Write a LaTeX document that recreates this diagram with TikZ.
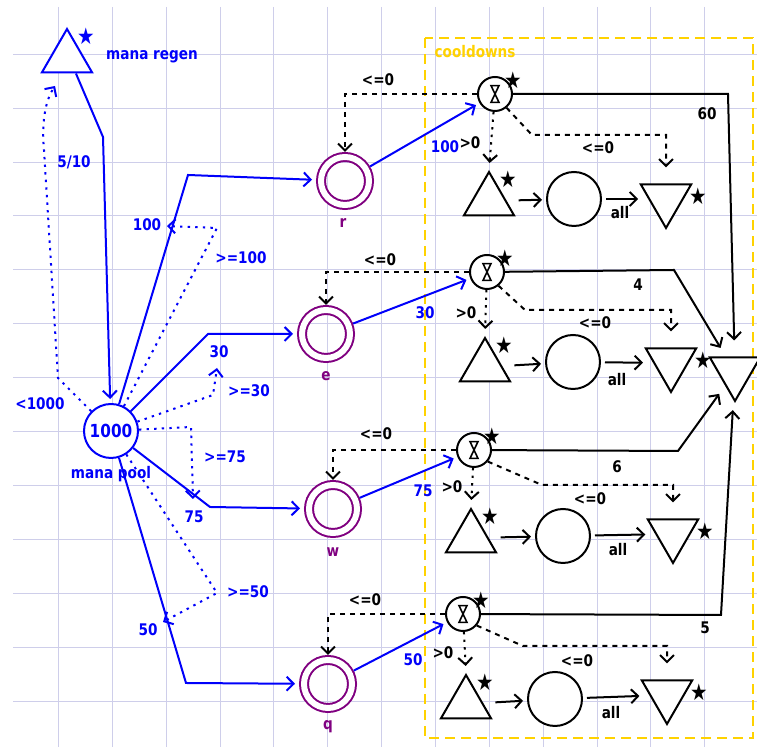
\documentclass[tikz,border=0pt]{standalone}
\usepackage{fontspec}
\setmainfont{DejaVu Sans}[FakeStretch=0.85]
\usetikzlibrary{arrows.meta, shapes.geometric}

\definecolor{gridcol}{RGB}{206,206,234}
\definecolor{mblue}{RGB}{0,0,250}
\definecolor{mpurple}{RGB}{128,0,128}
\definecolor{cdyellow}{RGB}{255,210,0}

\tikzset{
    vtip/.style={-{Straight Barb[length=3.5pt, width=7pt]}},
    gridline/.style={gridcol, line width=0.5pt},
    starlbl/.style={font=\fontsize{11.5}{11.5}\selectfont, inner sep=0pt},
    pool/.style={circle, draw, fill=white, minimum size=27pt, inner sep=0pt},
    abil/.style={circle, draw=mpurple, double=white, double distance=3pt, minimum size=24pt, inner sep=0pt, outer sep=2.5pt},
    timer/.style={circle, draw, fill=white, minimum size=17pt, inner sep=0pt,
        path picture={\draw[line width=0.8pt] ([shift={(-2pt,4.2pt)}]path picture bounding box.center) -- ++(4pt,0) -- ++(-4pt,-8.4pt) -- ++(4pt,0) -- cycle;},
        label={[starlbl, xshift=9pt, yshift=7pt]center:★}},
    src/.style={regular polygon, regular polygon sides=3, draw, fill=white, minimum size=29pt, inner sep=0pt},
    srcstar/.style={src, label={[starlbl, xshift=9.5pt, yshift=11pt]center:★}},
    drn/.style={src, regular polygon rotate=180},
    drnstar/.style={drn, label={[starlbl, xshift=16pt, yshift=1.5pt]center:★}},
    flow/.style={vtip, shorten >=2pt},
    flowb/.style={flow, mblue},
    act/.style={vtip, mblue, dash pattern=on 1.2pt off 2.6pt},
    cond/.style={vtip, dash pattern=on 2.5pt off 2.5pt},
    dots/.style={vtip, dash pattern=on 1.2pt off 2.6pt, shorten >=3.5pt},
    cdbox/.style={cdyellow, dash pattern=on 5pt off 3pt},
}

\begin{document}
\begin{tikzpicture}[x=0.5pt, y=-0.5pt, line width=1pt, font=\bfseries\fontsize{8}{9}\selectfont]
        % Background and grid
        \useasboundingbox[fill=white] (0,0) rectangle (757,747);
        \foreach \k in {0,...,12} {
            \draw[gridline] ({58.5+53.85*\k},7) -- ({58.5+53.85*\k},747);
            \draw[gridline] (13,{54.3+53.9*\k}) -- (757,{54.3+53.9*\k});
        }

        % Cooldowns group
        \draw[cdbox] (425,38) rectangle (753,738);
        \node[cdyellow, anchor=west] (cdtitle) at (427,52) {cooldowns};

        % Mana regen and mana pool
        \node[src, draw=mblue, label={[starlbl, mblue, xshift=9.5pt, yshift=11pt]center:★}] (regen) at (67,58) {};
        \node[mblue] (regenname) at (152,57) {mana regen};
        \node[pool, draw=mblue, text=mblue, font=\bfseries\fontsize{9}{10}\selectfont] (mana) at (111,431) {1000};
        \node[mblue] (mananame) at (111,474) {mana pool};

        % Ability pools
        \node[abil] (r) at (345,181) {};
        \node[mpurple] (rname) at (343,223) {r};
        \node[abil] (e) at (326,334) {};
        \node[mpurple] (ename) at (326,376) {e};
        \node[abil] (w) at (333,509) {};
        \node[mpurple] (wname) at (333,552) {w};
        \node[abil] (q) at (328,684) {};
        \node[mpurple] (qname) at (328,727) {q};

        % Cooldown timers, sources, pools and drains
        \node[timer] (tr) at (495,94) {};
        \node[srcstar] (sr) at (489,201) {};
        \node[pool] (pr) at (574,199) {};
        \node[drnstar] (dr) at (666,199) {};

        \node[timer] (te) at (487,272) {};
        \node[srcstar] (se) at (485,367) {};
        \node[pool] (pe) at (573,362) {};
        \node[drnstar] (de) at (671,363) {};

        \node[timer] (tw) at (474,450) {};
        \node[srcstar] (sw) at (471,538) {};
        \node[pool] (pw) at (563,536) {};
        \node[drnstar] (dw) at (673,534) {};

        \node[timer] (tq) at (463,614) {};
        \node[srcstar] (sq) at (466,704) {};
        \node[pool] (pq) at (555,699) {};
        \node[drnstar] (dq) at (667,695) {};

        \node[drn] (dall) at (735,372) {};

        % Regen feeding the pool
        \draw[flowb] (regen.-60) -- (103,137) -- (mana);
        \node[mblue] (l510) at (74,162) {5/10};
        \coordinate (regenin) at (55,86);
        \draw[act] (mana) -- (58,378) -- (44,150) .. controls (41,118) and (47,98) .. (regenin);
        \node[mblue] (l1000) at (40,404) {<1000};

        % Pool to abilities
        \draw[flowb] (mana) -- (188,175) -- (r);
        \draw[flowb] (mana) -- (208,334) -- (e);
        \draw[flowb] (mana) -- (210,507) -- (w);
        \draw[flowb] (mana) -- (186,683) -- (q);
        \node[mblue] (l100) at (147,225) {100};
        \node[mblue] (l30) at (219,352) {30};
        \node[mblue] (l75) at (194,517) {75};
        \node[mblue] (l50) at (148,630) {50};

        % Mana checks on the costs
        \coordinate (on100) at (167,226);
        \coordinate (on30) at (217,368);
        \coordinate (on75) at (193,499);
        \coordinate (on50) at (163,622);
        \draw[act] (mana) -- (217,228) -- (on100);
        \draw[act] (mana) -- (213,395) -- (on30);
        \draw[act] (mana) -- (191,427) -- (on75);
        \draw[act] (mana) -- (217,593) -- (on50);
        \node[mblue] (g100) at (241,258) {>=100};
        \node[mblue] (g30) at (249,391) {>=30};
        \node[mblue] (g75) at (225,457) {>=75};
        \node[mblue] (g50) at (248,592) {>=50};

        % Abilities start the timers
        \draw[flowb] (r) -- (tr);
        \draw[flowb] (e) -- (te);
        \draw[flowb] (w) -- (tw);
        \draw[flowb] (q) -- (tq);
        \node[mblue] (c100) at (445,147) {100};
        \node[mblue] (c30) at (425,313) {30};
        \node[mblue] (c75) at (423,491) {75};
        \node[mblue] (c50) at (413,660) {50};

        % Timers reset the abilities
        \draw[cond] (tr) -| (r);
        \draw[cond] (te) -| (e);
        \draw[cond] (tw) -| (w);
        \draw[cond] (tq) -| (q);
        \node (zr) at (378,80) {<=0};
        \node (ze) at (380,260) {<=0};
        \node (zw) at (376,434) {<=0};
        \node (zq) at (365,600) {<=0};

        % Timers feed the cooldown sources
        \draw[dots] (tr) -- (sr.north);
        \draw[dots] (te) -- (se.north);
        \draw[dots] (tw) -- (sw.north);
        \draw[dots] (tq) -- (sq.north);
        \node (pr0) at (470,143) {>0};
        \node (pe0) at (466,313) {>0};
        \node (pw0) at (452,487) {>0};
        \node (pq0) at (443,653) {>0};

        % Sources to pools to drains
        \draw[flow, shorten <=6pt] (sr) -- (pr);
        \draw[flow, shorten <=6pt] (se) -- (pe);
        \draw[flow, shorten <=6pt] (sw) -- (pw);
        \draw[flow, shorten <=6pt] (sq) -- (pq);
        \draw[flow, shorten <=2pt, shorten >=5pt] (pr) -- (dr);
        \draw[flow, shorten <=2pt, shorten >=5pt] (pe) -- (de);
        \draw[flow, shorten <=2pt, shorten >=5pt] (pw) -- (dw);
        \draw[flow, shorten <=2pt, shorten >=5pt] (pq) -- (dq);
        \node (ar) at (620,213) {all};
        \node (ae) at (617,380) {all};
        \node (aw) at (618,550) {all};
        \node (aq) at (611,713) {all};

        % Timers empty the cooldown pools
        \draw[cond, shorten >=8pt] (tr.-50) -- (532,135) -| (dr);
        \draw[cond, shorten >=8pt] (te.-50) -- (525,310) -| (de);
        \draw[cond, shorten >=8pt] (tw.-40) -- (542,485) -| (dw);
        \draw[cond, shorten >=8pt] (tq.-40) -- (523,646) -| (dq);
        \node (xr) at (598,148) {<=0};
        \node (xe) at (595,323) {<=0};
        \node (xw) at (590,499) {<=0};
        \node (xq) at (577,661) {<=0};

        % Timers to the shared drain
        \draw[flow, shorten >=8pt] (tr) -- (728,94) -- (dall);
        \draw[flow, shorten >=5pt] (te) -- (674,270) -- (dall);
        \draw[flow, shorten >=5pt] (tw) -- (678,451) -- (dall);
        \draw[flow, shorten >=5pt] (tq) -- (721,615) -- (dall);
        \node (n60) at (707,114) {60};
        \node (n4) at (638,285) {4};
        \node (n6) at (617,467) {6};
        \node (n5) at (705,628) {5};
\end{tikzpicture}
\end{document}
